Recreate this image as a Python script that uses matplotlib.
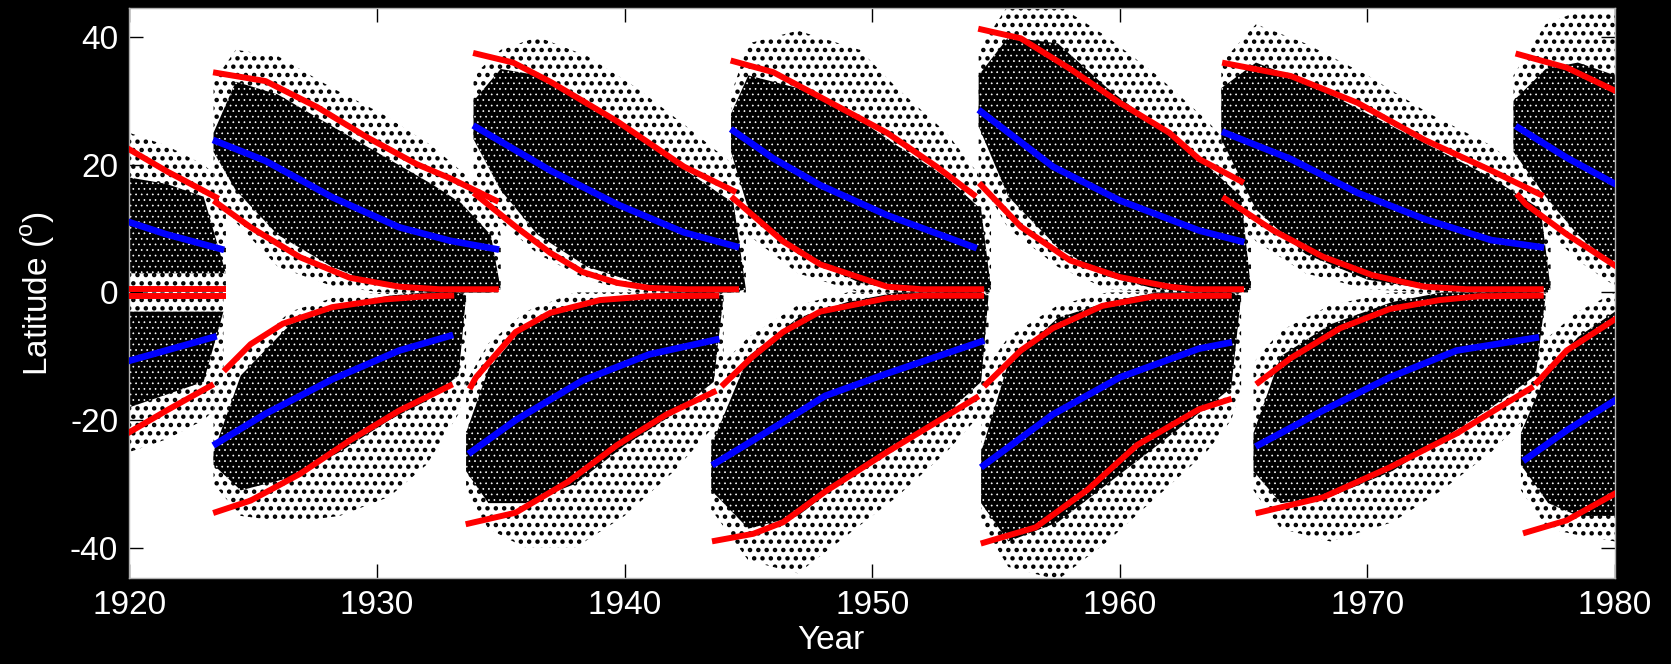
import matplotlib
matplotlib.use("Agg")
import matplotlib.pyplot as plt

plt.rcParams['font.family'] = ['Liberation Sans', 'DejaVu Sans']
plt.rcParams['mathtext.fontset'] = 'custom'
plt.rcParams['mathtext.rm'] = 'Liberation Sans'
plt.rcParams['axes.unicode_minus'] = False

# ---- cycle envelopes: (year, latitude) ----
# red = outer/inner envelope, blue = centroid
c15_n_outer = [(1920.0, 22.4), (1921.5, 19.0), (1923.5, 14.9)]
c15_n_blue = [(1920.0, 11.0), (1921.5, 9.1), (1923.7, 6.8)]
c15_n_inner = [(1920.0, 0.5), (1923.8, 0.5)]
c15_s_inner = [(1920.0, -0.5), (1923.8, -0.5)]
c15_s_blue = [(1920.0, -10.7), (1923.4, -7.0)]
c15_s_outer = [(1920.0, -21.9), (1921.5, -18.5), (1923.3, -14.6)]

c16_n_outer = [(1923.5, 34.4), (1925.5, 33.1), (1927.6, 29.0), (1929.6, 24.3), (1931.6, 20.1), (1933.0, 17.8), (1934.8, 14.4)]
c16_n_blue = [(1923.5, 23.7), (1925.5, 20.6), (1928.2, 14.9), (1930.9, 10.2), (1932.95, 8.1), (1934.8, 6.8)]
c16_n_inner = [(1923.5, 14.1), (1924.9, 10.2), (1926.9, 5.5), (1928.9, 2.3), (1930.9, 0.9), (1932.5, 0.5), (1934.8, 0.5)]
c16_s_inner = [(1923.9, -12.0), (1924.9, -8.1), (1926.2, -4.9), (1928.2, -2.3), (1930.3, -1.1), (1932.0, -0.6), (1933.0, -0.5)]
c16_s_blue = [(1923.5, -23.7), (1925.5, -19.0), (1928.2, -13.6), (1930.9, -9.1), (1932.95, -6.8)]
c16_s_outer = [(1923.5, -34.4), (1924.9, -32.6), (1926.9, -28.4), (1928.9, -23.2), (1930.9, -18.5), (1932.95, -14.6)]

c17_n_outer = [(1934.0, 37.4), (1935.5, 36.0), (1937.0, 33.0), (1939.7, 26.8), (1942.4, 19.7), (1944.4, 15.9)]
c17_n_blue = [(1934.0, 25.9), (1937.0, 19.1), (1939.7, 13.8), (1942.4, 9.4), (1944.5, 7.2)]
c17_n_inner = [(1934.0, 15.3), (1935.6, 10.3), (1937.0, 6.2), (1938.3, 3.2), (1939.7, 1.5), (1941.0, 0.7), (1942.5, 0.5), (1944.5, 0.5)]
c17_s_inner = [(1933.8, -14.7), (1934.0, -13.3), (1935.6, -6.2), (1937.0, -3.2), (1939.0, -1.2), (1941.0, -0.6), (1943.7, -0.5)]
c17_s_blue = [(1933.8, -25.0), (1935.6, -20.0), (1938.3, -13.8), (1941.0, -9.7), (1943.7, -7.4)]
c17_s_outer = [(1933.7, -36.2), (1935.6, -34.5), (1937.7, -29.7), (1939.7, -23.9), (1941.7, -19.1), (1943.6, -15.6)]

c18_n_outer = [(1944.4, 36.2), (1946.0, 34.5), (1947.9, 30.6), (1950.6, 25.0), (1952.6, 19.7), (1954.1, 15.3)]
c18_n_blue = [(1944.4, 25.3), (1946.0, 21.0), (1947.9, 16.8), (1950.6, 12.1), (1954.1, 7.1)]
c18_n_inner = [(1944.4, 14.7), (1946.4, 8.0), (1947.9, 4.4), (1950.6, 0.9), (1952.0, 0.5), (1954.4, 0.5)]
c18_s_inner = [(1944.0, -14.4), (1945.1, -10.3), (1946.4, -6.2), (1947.9, -3.0), (1950.6, -0.9), (1952.0, -0.5), (1954.4, -0.5)]
c18_s_blue = [(1943.65, -26.8), (1946.4, -20.3), (1948.1, -16.2), (1950.6, -12.7), (1954.4, -7.7)]
c18_s_outer = [(1943.65, -38.9), (1945.2, -37.8), (1946.4, -36.0), (1948.1, -31.2), (1950.6, -25.0), (1952.6, -20.3), (1954.2, -16.5)]

c19_n_outer = [(1954.4, 41.2), (1956.0, 39.8), (1958.0, 35.0), (1960.0, 29.7), (1962.0, 25.0), (1963.2, 20.9), (1964.9, 17.4)]
c19_n_blue = [(1954.4, 28.3), (1957.3, 19.7), (1960.0, 14.4), (1963.2, 9.7), (1964.9, 8.0)]
c19_n_inner = [(1954.4, 16.8), (1956.0, 10.3), (1958.0, 5.0), (1960.0, 2.4), (1962.0, 0.9), (1963.0, 0.5), (1964.9, 0.5)]
c19_s_inner = [(1954.6, -14.4), (1956.0, -9.1), (1957.3, -5.6), (1959.3, -2.1), (1961.4, -0.6), (1964.4, -0.5)]
c19_s_blue = [(1954.5, -27.1), (1957.3, -19.1), (1960.0, -13.3), (1963.2, -8.8), (1964.4, -7.9)]
c19_s_outer = [(1954.5, -39.2), (1956.6, -36.8), (1958.7, -30.9), (1960.7, -23.9), (1963.2, -18.3), (1964.4, -16.8)]

c20_n_outer = [(1964.25, 35.9), (1966.9, 33.9), (1969.6, 29.7), (1972.3, 23.9), (1975.0, 19.1), (1977.0, 15.3)]
c20_n_blue = [(1964.25, 25.0), (1966.9, 20.9), (1969.6, 15.6), (1972.3, 11.5), (1975.0, 8.2), (1977.0, 7.1)]
c20_n_inner = [(1964.25, 14.7), (1966.2, 9.7), (1968.2, 5.6), (1970.2, 2.7), (1972.3, 0.9), (1974.0, 0.5), (1977.0, 0.5)]
c20_s_inner = [(1965.6, -14.1), (1966.9, -10.3), (1968.9, -5.6), (1970.9, -2.6), (1972.9, -1.2), (1974.5, -0.6), (1977.0, -0.5)]
c20_s_blue = [(1965.6, -23.9), (1968.2, -18.5), (1970.9, -13.3), (1973.6, -9.1), (1976.8, -7.1)]
c20_s_outer = [(1965.6, -34.5), (1968.2, -32.1), (1970.9, -27.4), (1973.6, -22.1), (1976.6, -15.0)]

c21_n_outer = [(1976.1, 37.3), (1978.05, 35.2), (1980.0, 31.6)]
c21_n_blue = [(1976.1, 25.8), (1978.05, 21.1), (1980.0, 17.0)]
c21_n_inner = [(1976.1, 15.1), (1976.4, 13.8), (1978.05, 9.1), (1980.0, 4.2)]
c21_s_inner = [(1976.85, -14.1), (1978.05, -9.1), (1980.0, -4.2)]
c21_s_blue = [(1976.4, -26.1), (1978.05, -21.6), (1980.0, -16.9)]
c21_s_outer = [(1976.4, -37.6), (1978.05, -35.7), (1980.0, -31.5)]

# ---- sunspot clouds: (year, sparse outer edge, dense outer edge, dense inner edge, sparse inner edge) ----
cloud15_n = [(1920.0, 25, 18, 3, 0), (1921.5, 23, 17, 3, 0), (1923.0, 20, 15, 3, 0), (1923.9, 17, 3, 3, 0)]
cloud15_s = [(1920.0, -25, -18, -3, 0), (1921.5, -23, -16, -3, 0), (1923.0, -20, -14, -3, 0), (1923.8, -17, -3, -3, 0)]
cloud16_n = [(1923.4, 33, 25, 22, 17), (1924.3, 38, 33, 16, 11), (1926.0, 37, 31, 9, 4), (1928.2, 32, 26, 4, 1),
             (1930.2, 28, 21.5, 1, 0), (1932.2, 23, 17, 0, 0), (1933.4, 19, 14, 0, 0), (1934.6, 15, 9, 0, 0), (1935.0, 9, 0.5, 0.5, 0)]
cloud16_s = [(1923.4, -30, -27, -25, -15), (1924.5, -35, -31, -13, -10), (1926.5, -36, -29, -5, -3), (1928.5, -35, -25, -2, -0.5),
             (1930.5, -32, -20, -0.5, 0), (1932.0, -27, -17, 0, 0), (1933.3, -19, -13, 0, 0), (1933.6, -14, -0.5, -0.5, 0)]
cloud17_n = [(1933.9, 34, 30, 24, 16), (1935.0, 38, 35, 16, 11), (1936.5, 40, 34, 9, 6), (1938.5, 37, 30, 4, 2),
             (1940.5, 32, 25, 1.5, 0), (1942.5, 26, 19, 0, 0), (1944.4, 20, 14, 0, 0), (1944.9, 14, 0.5, 0.5, 0)]
cloud17_s = [(1933.6, -31, -28, -22, -14), (1934.5, -37, -33, -12, -8), (1936.0, -40, -33, -5, -3), (1938.0, -40, -30, -2, 0),
             (1940.0, -35, -24, -0.5, 0), (1942.0, -28, -19, 0, 0), (1943.6, -21, -14, 0, 0), (1944.0, -15, -0.5, -0.5, 0)]
cloud18_n = [(1944.3, 31, 28, 22, 15), (1945.0, 39, 34, 13, 9), (1947.0, 41, 32, 6, 3), (1949.5, 38, 27, 1.5, 0),
             (1951.0, 32, 23, 0.5, 0), (1953.0, 25, 18, 0, 0), (1954.4, 18, 13, 0, 0), (1954.8, 13, 0.5, 0.5, 0)]
cloud18_s = [(1943.5, -34, -31, -24, -13), (1945.0, -42, -37, -10, -7), (1947.0, -44, -35, -4, -2), (1949.0, -38, -29, -1.5, 0),
             (1951.0, -32, -24, 0, 0), (1953.0, -25, -19, 0, 0), (1954.4, -19, -14, 0, 0), (1954.7, -14, -0.5, -0.5, 0)]
cloud19_n = [(1954.3, 38, 34, 26, 18), (1955.5, 45, 40, 15, 10), (1957.5, 45, 39, 7, 4), (1959.5, 40, 32, 2.5, 0.5),
             (1961.5, 34, 26, 0.5, 0), (1963.5, 27, 20, 0, 0), (1964.9, 21, 15, 0, 0), (1965.3, 15, 0.5, 0.5, 0)]
cloud19_s = [(1954.4, -36, -33, -25, -13), (1955.5, -43, -39, -11, -7), (1957.5, -45, -36, -4, -2), (1959.5, -39, -30, -1.5, 0),
             (1961.5, -32, -24, 0, 0), (1963.5, -25, -18, 0, 0), (1964.5, -20, -15, 0, 0), (1964.9, -15, -0.5, -0.5, 0)]
cloud20_n = [(1964.1, 36, 32, 24, 15), (1965.5, 42, 36, 13, 8), (1967.5, 39, 33, 6, 3), (1970.0, 34, 28, 2, 0.5),
             (1972.5, 28, 23, 0.5, 0), (1975.0, 23, 18, 0, 0), (1977.0, 17, 13, 0, 0), (1977.4, 12, 0.5, 0.5, 0)]
cloud20_s = [(1965.4, -31, -28, -22, -11), (1966.5, -37, -33, -10, -6), (1968.5, -39, -32, -5, -2), (1971.0, -36, -28, -1.5, 0),
             (1973.0, -31, -23, 0, 0), (1975.0, -25, -18, 0, 0), (1976.8, -18, -13, 0, 0), (1977.2, -13, -0.5, -0.5, 0)]
cloud21_n = [(1975.9, 34, 30, 22, 14), (1977.2, 42, 35, 15, 10), (1978.5, 44, 36, 9, 5), (1980.0, 44, 34, 4, 1)]
cloud21_s = [(1976.2, -31, -27, -22, -12), (1977.3, -37, -33, -12, -7), (1978.5, -38, -35, -7, -3), (1980.0, -39, -35, -3, 0)]

clouds = [cloud15_n, cloud15_s, cloud16_n, cloud16_s, cloud17_n, cloud17_s, cloud18_n, cloud18_s,
          cloud19_n, cloud19_s, cloud20_n, cloud20_s, cloud21_n, cloud21_s]
red_curves = [c15_n_outer, c15_n_inner, c15_s_inner, c15_s_outer,
              c16_n_outer, c16_n_inner, c16_s_inner, c16_s_outer,
              c17_n_outer, c17_n_inner, c17_s_inner, c17_s_outer,
              c18_n_outer, c18_n_inner, c18_s_inner, c18_s_outer,
              c19_n_outer, c19_n_inner, c19_s_inner, c19_s_outer,
              c20_n_outer, c20_n_inner, c20_s_inner, c20_s_outer,
              c21_n_outer, c21_n_inner, c21_s_inner, c21_s_outer]
blue_curves = [c15_n_blue, c15_s_blue, c16_n_blue, c16_s_blue, c17_n_blue, c17_s_blue,
               c18_n_blue, c18_s_blue, c19_n_blue, c19_s_blue, c20_n_blue, c20_s_blue,
               c21_n_blue, c21_s_blue]

fig = plt.figure(figsize=(16.71, 6.64), dpi=100, facecolor='black')
ax = fig.add_axes([0.0774, 0.1288, 0.8891, 0.8587])
ax.set_facecolor('white')


def hatched_band(x, y1, y2, face, dots, hatch, hlw):
    with plt.rc_context({'hatch.color': dots, 'hatch.linewidth': hlw}):
        pc = ax.fill_between(x, y1, y2, facecolor=face, edgecolor='none',
                             linewidth=0, hatch=hatch, zorder=1)
    if hasattr(pc, 'set_hatch_linewidth'):
        pc.set_hatch_linewidth(hlw)
    return pc


# sparse halo first, dense core on top
for cl in clouds:
    yr = [r[0] for r in cl]
    hatched_band(yr, [r[1] for r in cl], [r[4] for r in cl], 'white', 'black', '..', 2.0)
for cl in clouds:
    yr = [r[0] for r in cl]
    hatched_band(yr, [r[2] for r in cl], [r[3] for r in cl], 'black', 'white', '...', 0.5)

for c in red_curves:
    yr, lat = zip(*c)
    ax.plot(yr, lat, color='#ff0000', lw=4.3, zorder=3)
for c in blue_curves:
    yr, lat = zip(*c)
    ax.plot(yr, lat, color='#0000ff', lw=4.8, zorder=3)

ax.set_xlim(1920, 1980)
ax.set_ylim(-44.8, 44.5)
ax.set_xticks(range(1920, 1981, 10))
ax.set_yticks([-40, -20, 0, 20, 40])
ax.tick_params(direction='in', length=10, width=1, color='black', labelcolor='white',
               labelsize=24, top=True, right=True, pad=8)
for s in ax.spines.values():
    s.set_color('#b0b0b0')
    s.set_linewidth(1)

ax.set_xlabel('Year', color='white', fontsize=24)
ax.xaxis.set_label_coords(0.472, -0.082)
ax.set_ylabel(r'Latitude ($^{\mathrm{o}}$)', color='white', fontsize=24)
ax.yaxis.set_label_coords(-0.049, 0.5)

fig.savefig('out.png', dpi=100, facecolor='black')
